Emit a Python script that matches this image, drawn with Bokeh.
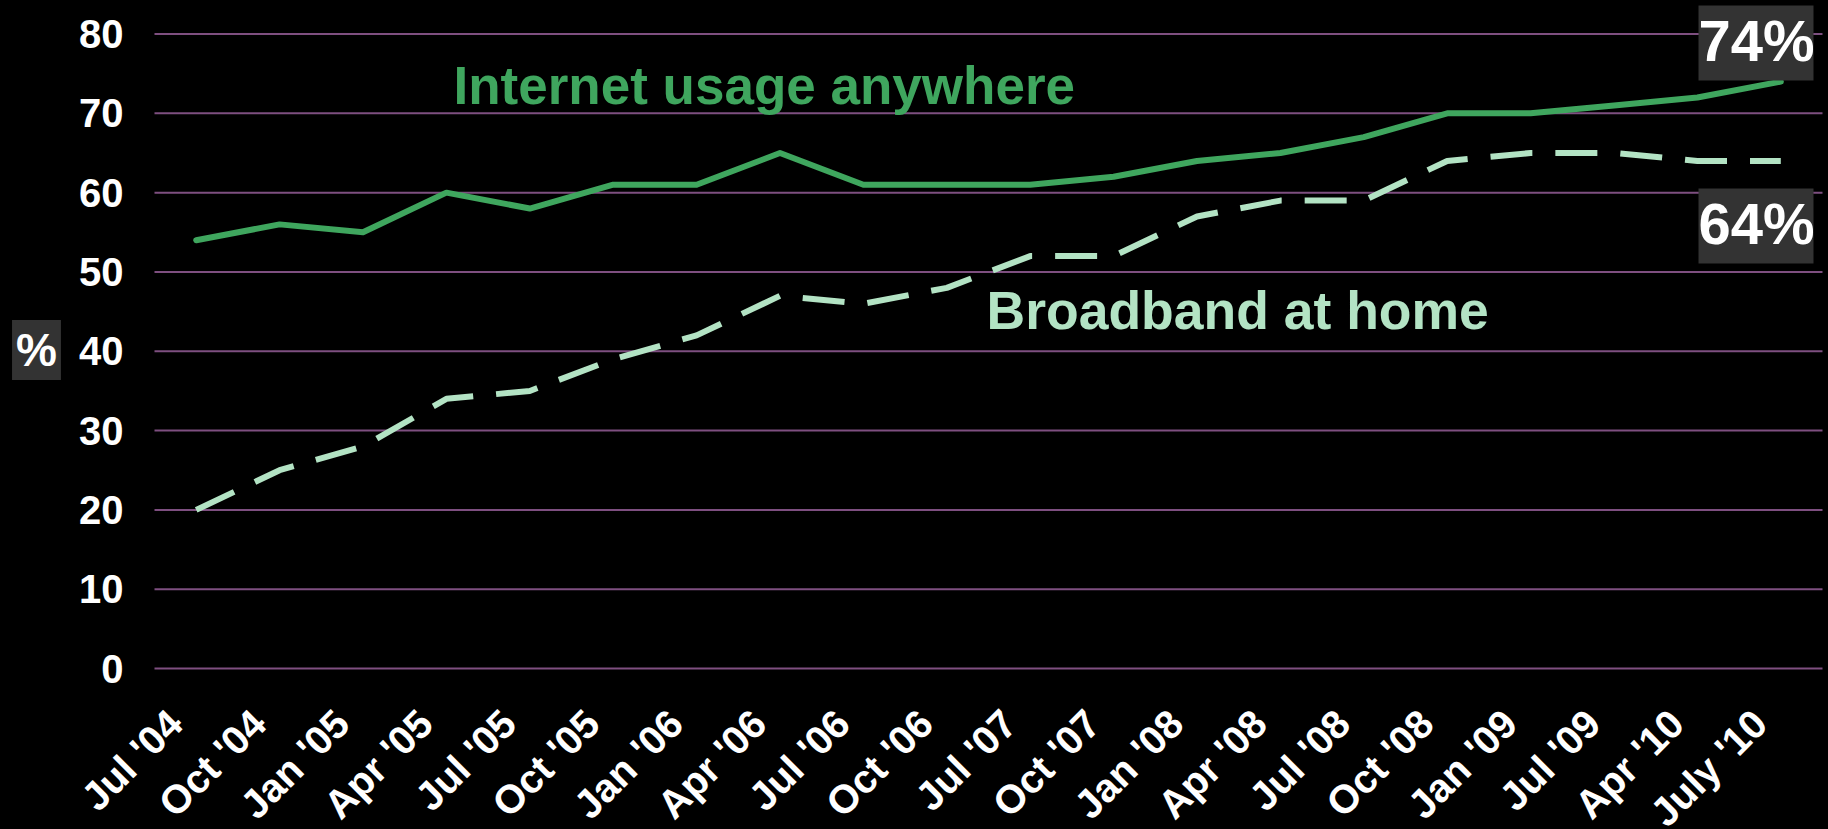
import math
from bokeh.plotting import figure
from bokeh.models import Range1d, Label, BoxAnnotation, ColumnDataSource, FixedTicker
from bokeh.layouts import column
from bokeh.embed import file_html
from bokeh.resources import INLINE

labels = ["Jul '04", "Oct '04", "Jan '05", "Apr '05", "Jul '05", "Oct '05", "Jan '06",
          "Apr '06", "Jul '06", "Oct '06", "Jul '07", "Oct '07", "Jan '08", "Apr '08",
          "Jul '08", "Oct '08", "Jan '09", "Jul '09", "Apr '10", "July '10"]
internet = [54, 56, 55, 60, 58, 61, 61, 65, 61, 61, 61, 62, 64, 65, 67, 70, 70, 71, 72, 74]
broadband = [20, 25, 28, 34, 35, 39, 42, 47, 46, 48, 52, 52, 57, 59, 59, 64, 65, 65, 64, 64]
y_ticks = [0, 10, 20, 30, 40, 50, 60, 70, 80]

GREEN = "#3FA65E"
LIGHT = "#B3E3C4"
GRID = "#7E4F80"
FONT = "Liberation Sans"

n = len(labels)
xpos = list(range(n))
src = ColumnDataSource(dict(x=xpos, internet=internet, broadband=broadband))

# The frame fills the canvas; both axes are pinned inside it (category band edge / y = 0)
p = figure(x_range=Range1d(-2.3465, n - 0.428), y_range=Range1d(-20.30, 84.23),
           width=1828, height=829, title_location=None,
           output_backend="svg", toolbar_location=None,
           min_border_left=0, min_border_right=0, min_border_top=0, min_border_bottom=0,
           background_fill_color="black", border_fill_color="black", outline_line_color=None)

p.xgrid.visible = False
p.ygrid.visible = False
# horizontal value gridlines across the category band
grid_src = ColumnDataSource(dict(y=y_ticks, x0=[-0.5] * len(y_ticks), x1=[n - 0.5] * len(y_ticks)))
p.segment(x0="x0", x1="x1", y0="y", y1="y", source=grid_src, line_color=GRID, line_width=2)

p.yaxis.ticker = FixedTicker(ticks=y_ticks, minor_ticks=[])
p.yaxis.fixed_location = -0.5

# category labels are anchored slightly left of each category centre (as in the original)
label_ticks = [i - 0.25 for i in xpos]
p.xaxis.ticker = FixedTicker(ticks=label_ticks, minor_ticks=[])
p.xaxis.major_label_overrides = {t: lab for t, lab in zip(label_ticks, labels)}
p.xaxis.fixed_location = 0

for ax in (p.xaxis[0], p.yaxis[0]):
    ax.axis_line_color = None
    ax.major_tick_line_color = None
    ax.minor_tick_line_color = None
    ax.major_tick_in = 0
    ax.major_tick_out = 0
    ax.minor_tick_in = 0
    ax.minor_tick_out = 0
    ax.major_label_text_color = "white"
    ax.major_label_text_font = FONT
    ax.major_label_text_font_style = "bold"

p.yaxis.major_label_text_font_size = "40px"
p.yaxis.major_label_standoff = 31

p.xaxis.major_label_text_font_size = "40px"
p.xaxis.major_label_orientation = math.pi / 4
p.xaxis.major_label_standoff = 48

p.line("x", "broadband", source=src, line_color=LIGHT, line_width=6, line_dash="42 23")
p.line("x", "internet", source=src, line_color=GREEN, line_width=6, line_join="round", line_cap="round")

def box(l, r, t, b):
    p.add_layout(BoxAnnotation(left=l, right=r, top=t, bottom=b,
                               left_units="screen", right_units="screen",
                               top_units="data", bottom_units="data",
                               fill_color="#333333", fill_alpha=1.0, line_color=None))

def lab(x, y, text, size, color, align="left"):
    p.add_layout(Label(x=x, y=y, x_units="screen", y_units="data", text=text,
                       text_font=FONT, text_font_style="bold", text_font_size=size,
                       text_color=color, text_align=align, text_baseline="alphabetic"))

box(1698, 1813, 83.6, 74.14)
box(1698, 1813, 60.52, 51.07)

lab(1756, 79.18, "74%", "58px", "white", "center")
lab(1756, 56.11, "64%", "58px", "white", "center")
lab(453, 73.51, "Internet usage anywhere", "53px", GREEN)
lab(986, 45.14, "Broadband at home", "53.5px", LIGHT)

# "%" unit label to the left of the value axis
p.add_layout(Label(x=-1.915, y=40.16, text="%", text_font=FONT, text_font_style="bold",
                   text_font_size="46px", text_color="white", text_align="center",
                   text_baseline="alphabetic", background_fill_color="#333333",
                   padding=4))

page = column(p, width=1828, height=829,
              styles={"overflow": "hidden", "background-color": "black"})
open("out.html", "w").write(file_html(page, INLINE))
